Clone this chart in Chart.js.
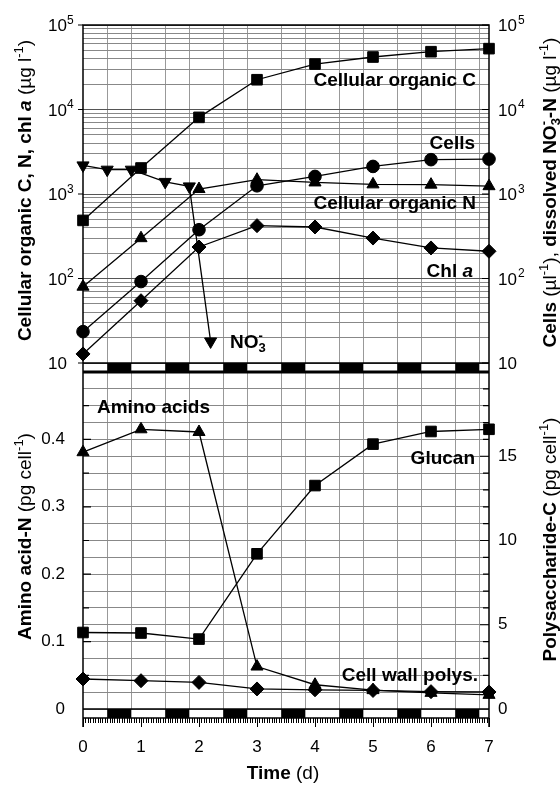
<!DOCTYPE html>
<html>
<head>
<meta charset="utf-8">
<script src="https://cdn.jsdelivr.net/npm/chart.js@4.4.1/dist/chart.umd.min.js"></script>
<style>
  html, body { margin: 0; padding: 0; background: #fff; }
  .panel { position: absolute; left: 0; width: 560px; }
</style>
</head>
<body>
<div class="panel" style="top:0;height:372px"><canvas id="topCanvas"></canvas></div>
<div class="panel" style="top:372px;height:413px"><canvas id="bottomCanvas"></canvas></div>
<script>
// Sampling days and the light cycle (dark between these hours)
const days = [0, 1, 2, 3, 4, 5, 6, 7];
const lightsOff = 10;
const lightsOn = 20;

// Upper panel, µg l-1 (cells per µl)
const organicC = [487, 2030, 8070, 22500, 34500, 41800, 48300, 52500];
const cells = [23.5, 92, 378, 1250, 1615, 2120, 2550, 2590];
const organicN = [80, 300, 1145, 1476, 1370, 1300, 1290, 1237];
const chlA = [12.8, 54.6, 236, 422, 407, 301, 230, 210];
const nitrateTime = [0, 0.417, 0.833, 1.417, 1.833, 2.2];
const nitrate = [2180, 1940, 1940, 1390, 1230, 18];

// Lower panel, pg cell-1
const aminoN = [0.381, 0.415, 0.411, 0.063, 0.036, 0.028, 0.024, 0.021];
const glucan = [4.54, 4.51, 4.15, 9.21, 13.26, 15.72, 16.47, 16.6];
const cellWall = [1.78, 1.68, 1.58, 1.19, 1.14, 1.10, 1.03, 1.01];

// Tick labels
const decades = [10, 100, 1000, 10000, 100000];
const aminoTicks = [0, 0.1, 0.2, 0.3, 0.4];
const polyTicks = [0, 5, 10, 15];

const FONT = '"Liberation Sans", Arial, sans-serif';
const font = (size, weight = '', style = '') => `${style} ${weight} ${size}px ${FONT}`.trim();

const lightEdges = [];
for (let d = 0; d < 7; d++) lightEdges.push(d + lightsOff / 24, d + lightsOn / 24);

const logTicks = [];
for (let e = 1; e < 5; e++) for (let m = 1; m < 10; m++) logTicks.push(m * 10 ** e);
logTicks.push(1e5);
const isDecade = v => Math.abs(Math.log10(v) - Math.round(Math.log10(v))) < 1e-9;

function series(label, xs, ys, axis, style, r, rot = 0) {
  return {
    label,
    yAxisID: axis,
    data: xs.map((x, i) => ({ x, y: ys[i] })),
    borderColor: '#000',
    borderWidth: 1.3,
    pointStyle: style,
    pointRadius: r,
    pointRotation: rot,
    pointBackgroundColor: '#000',
    pointBorderColor: '#000',
    pointBorderWidth: 1,
    clip: false
  };
}

// keep the plot box exactly where the axes are fixed
function fixBox(width) {
  return s => {
    s.width = width;
    s.paddingTop = 0;
    s.paddingBottom = 0;
  };
}

// text made of runs with their own font and baseline shift
const B = (t, s = 19) => ({ t, f: font(s, 'bold') });
const BI = (t, s = 19) => ({ t, f: font(s, 'bold', 'italic') });
const R = (t, s = 19) => ({ t, f: font(s) });
const SUP = (t, bold) => ({ t, f: font(13, bold ? 'bold' : ''), dy: -8 });
const SUB = (t, bold) => ({ t, f: font(13, bold ? 'bold' : ''), dy: 4 });

function drawRich(ctx, parts, x, y, align = 'left', angle = 0) {
  ctx.save();
  ctx.translate(x, y);
  ctx.rotate(angle);
  ctx.textBaseline = 'alphabetic';
  ctx.textAlign = 'left';
  ctx.fillStyle = '#000';
  let w = 0;
  parts.forEach(p => { ctx.font = p.f; if (!p.stack) w += ctx.measureText(p.t).width; });
  let cx = align === 'center' ? -w / 2 : align === 'right' ? -w : 0;
  let last = 0;
  parts.forEach(p => {
    ctx.font = p.f;
    const pw = ctx.measureText(p.t).width;
    if (p.stack) {
      ctx.fillText(p.t, cx - last, p.dy || 0);
    } else {
      ctx.fillText(p.t, cx, p.dy || 0);
      cx += pw;
      last = pw;
    }
  });
  ctx.restore();
}

function drawDarkBars(ctx, x, y0, h) {
  ctx.fillStyle = '#000';
  for (let d = 0; d < 7; d++) {
    const x0 = x.getPixelForValue(d + lightsOff / 24);
    const x1 = x.getPixelForValue(d + lightsOn / 24);
    ctx.fillRect(x0, y0, x1 - x0, h);
  }
}

const topDecor = {
  id: 'topDecor',
  afterDraw(chart) {
    const { ctx, chartArea: a, scales } = chart;
    ctx.save();
    ctx.strokeStyle = '#000';
    ctx.lineWidth = 1.5;
    ctx.beginPath();
    ctx.moveTo(a.left, a.bottom + 9); ctx.lineTo(a.left, a.top); ctx.lineTo(a.right, a.top); ctx.lineTo(a.right, a.bottom + 9);
    ctx.moveTo(a.left, a.bottom); ctx.lineTo(a.right, a.bottom);
    ctx.moveTo(a.left, a.bottom + 8.25); ctx.lineTo(a.right, a.bottom + 8.25);
    ctx.stroke();
    drawDarkBars(ctx, scales.x, a.bottom, 9);

    // decade ticks and 10^n labels on both sides
    ctx.lineWidth = 1.2;
    ctx.beginPath();
    decades.forEach(v => {
      const y = scales.yL.getPixelForValue(v);
      ctx.moveTo(a.left - 5, y); ctx.lineTo(a.left, y);
      ctx.moveTo(a.right - 7, y); ctx.lineTo(a.right, y);
    });
    ctx.stroke();
    decades.forEach(v => {
      const y = scales.yL.getPixelForValue(v) + 6;
      const e = Math.round(Math.log10(v));
      ctx.font = font(17);
      const w10 = ctx.measureText('10').width;
      drawRich(ctx, [R('10', 17)], a.left - 16 - w10, y);
      drawRich(ctx, [R('10', 17)], a.right + 9, y);
      if (e > 1) {
        drawRich(ctx, [{ t: String(e), f: font(12), dy: -7.5 }], a.left - 16, y);
        drawRich(ctx, [{ t: String(e), f: font(12), dy: -7.5 }], a.right + 9 + w10 + 1, y);
      }
    });

    // series labels
    drawRich(ctx, [B('Cellular organic C')], 476, 86, 'right');
    drawRich(ctx, [B('Cells')], 475, 149, 'right');
    drawRich(ctx, [B('Cellular organic N')], 476, 209, 'right');
    drawRich(ctx, [B('Chl '), BI('a')], 473, 276.5, 'right');
    drawRich(ctx, [B('NO'), SUB('3', true), { ...SUP('-', true), stack: true }], 230, 348);

    // axis titles
    drawRich(ctx, [B('Cellular organic C, N, chl '), BI('a'), R(' (µg l'), SUP('-1'), R(')')],
      31, 190.5, 'center', -Math.PI / 2);
    drawRich(ctx, [B('Cells'), R(' (µl'), SUP('-1'), R('), '), B('dissolved NO'), SUB('3', true),
      { ...SUP('-', true), stack: true }, B('-N'), R(' (µg l'), SUP('-1'), R(')')],
      555.5, 192.5, 'center', -Math.PI / 2);
    ctx.restore();
  }
};

new Chart(document.getElementById('topCanvas'), {
  type: 'line',
  data: {
    datasets: [
      series('Cellular organic C', days, organicC, 'yL', 'rect', 7.5),
      series('Cells', days, cells, 'yR', 'circle', 6.3),
      series('Cellular organic N', days, organicN, 'yL', 'triangle', 7),
      series('Chl a', days, chlA, 'yL', 'rectRot', 7),
      series('NO3-', nitrateTime, nitrate, 'yR', 'triangle', 7, 180)
    ]
  },
  options: {
    responsive: true,
    maintainAspectRatio: false,
    animation: false,
    events: [],
    layout: { autoPadding: false, padding: { top: 25, left: 0, right: 0, bottom: 0 } },
    plugins: { legend: { display: false }, tooltip: { enabled: false } },
    scales: {
      x: {
        type: 'linear', min: 0, max: 7,
        afterBuildTicks: s => { s.ticks = lightEdges.map(v => ({ value: v })); },
        ticks: { display: false },
        grid: { color: '#999', drawTicks: false },
        border: { display: false },
        afterFit: s => { s.height = 9; }
      },
      yL: {
        type: 'logarithmic', position: 'left', min: 10, max: 1e5,
        afterBuildTicks: s => { s.ticks = logTicks.map(v => ({ value: v })); },
        ticks: { display: false },
        grid: { color: c => isDecade(c.tick.value) ? '#555' : '#888', drawTicks: false },
        border: { display: false },
        afterFit: fixBox(83)
      },
      yR: {
        type: 'logarithmic', position: 'right', min: 10, max: 1e5,
        ticks: { display: false },
        grid: { display: false },
        border: { display: false },
        afterFit: fixBox(71)
      }
    }
  },
  plugins: [topDecor]
});

const bottomDecor = {
  id: 'bottomDecor',
  afterDraw(chart) {
    const { ctx, chartArea: a, scales: { x, yA, yP } } = chart;
    ctx.save();
    ctx.strokeStyle = '#000';
    ctx.lineWidth = 1.5;
    ctx.beginPath();
    ctx.moveTo(a.left, 0.75); ctx.lineTo(a.right, 0.75);
    ctx.moveTo(a.left, 0); ctx.lineTo(a.left, a.bottom + 18);
    ctx.moveTo(a.right, 0); ctx.lineTo(a.right, a.bottom + 18);
    ctx.moveTo(a.left, a.bottom); ctx.lineTo(a.right, a.bottom);
    ctx.moveTo(a.left, a.bottom + 9); ctx.lineTo(a.right, a.bottom + 9);
    ctx.stroke();
    drawDarkBars(ctx, x, a.bottom, 9);

    // hourly ticks under the light bar
    ctx.lineWidth = 1;
    ctx.beginPath();
    for (let h = 0; h <= 7 * 24; h++) {
      const px = Math.round(x.getPixelForValue(h / 24)) + 0.5;
      const len = h % 24 === 0 ? 9 : 5;
      ctx.moveTo(px, a.bottom + 9); ctx.lineTo(px, a.bottom + 9 + len);
    }
    ctx.stroke();

    // inward ticks on both y axes
    ctx.lineWidth = 1.2;
    ctx.beginPath();
    for (let k = 1; k < 10; k++) {
      const y = yA.getPixelForValue(k * 0.05);
      ctx.moveTo(a.left, y); ctx.lineTo(a.left + (k % 2 === 0 ? 8 : 6), y);
    }
    for (let v = 1; v < 20; v++) {
      const y = yP.getPixelForValue(v);
      ctx.moveTo(a.right - (v % 5 === 0 ? 9 : 6), y); ctx.lineTo(a.right, y);
    }
    ctx.stroke();

    const o = 372;
    drawRich(ctx, [B('Amino acids')], 97, 412.5 - o);
    drawRich(ctx, [B('Glucan')], 475, 463.5 - o, 'right');
    drawRich(ctx, [B('Cell wall polys.')], 478, 680.5 - o, 'right');

    drawRich(ctx, [B('Amino acid-N'), R(' (pg cell'), SUP('-1'), R(')')], 31, 536.5 - o, 'center', -Math.PI / 2);
    drawRich(ctx, [B('Polysaccharide-C'), R(' (pg cell'), SUP('-1'), R(')')], 555.5, 539.5 - o, 'center', -Math.PI / 2);
    drawRich(ctx, [B('Time'), R(' (d)')], 283, 779 - o, 'center');
    ctx.restore();
  }
};

new Chart(document.getElementById('bottomCanvas'), {
  type: 'line',
  data: {
    datasets: [
      series('Amino acids', days, aminoN, 'yA', 'triangle', 7),
      series('Glucan', days, glucan, 'yP', 'rect', 7.5),
      series('Cell wall polys.', days, cellWall, 'yP', 'rectRot', 7)
    ]
  },
  options: {
    responsive: true,
    maintainAspectRatio: false,
    animation: false,
    events: [],
    layout: { autoPadding: false, padding: 0 },
    plugins: { legend: { display: false }, tooltip: { enabled: false } },
    scales: {
      x: {
        type: 'linear', min: 0, max: 7,
        afterBuildTicks: s => {
          s.ticks = [...lightEdges, ...days].sort((p, q) => p - q).map(v => ({ value: v }));
        },
        ticks: {
          callback: v => days.includes(v) ? String(v) : '',
          font: { family: FONT, size: 17 }, color: '#000',
          padding: 28, maxRotation: 0, autoSkip: false
        },
        grid: { color: c => days.includes(c.tick.value) ? 'rgba(0,0,0,0)' : '#999', drawTicks: false },
        border: { display: false },
        afterFit: s => { s.height = 76; s.paddingLeft = 0; s.paddingRight = 0; }
      },
      yA: {
        type: 'linear', position: 'left', min: 0, max: 0.5,
        afterBuildTicks: s => { s.ticks = aminoTicks.map(v => ({ value: v })); },
        ticks: {
          callback: v => v === 0 ? '0' : v.toFixed(1),
          font: { family: FONT, size: 17 }, color: '#000', padding: 10, autoSkip: false
        },
        grid: { display: false },
        border: { display: false },
        afterFit: fixBox(83)
      },
      yP: {
        type: 'linear', position: 'right', min: 0, max: 20,
        afterBuildTicks: s => {
          s.ticks = Array.from({ length: 21 }, (_, i) => ({ value: i }));
        },
        ticks: {
          callback: v => polyTicks.includes(v) ? String(v) : '',
          font: { family: FONT, size: 17 }, color: '#000', padding: 9, autoSkip: false
        },
        grid: { color: '#888', drawTicks: false },
        border: { display: false },
        afterFit: fixBox(71)
      }
    }
  },
  plugins: [bottomDecor]
});
</script>
</body>
</html>
